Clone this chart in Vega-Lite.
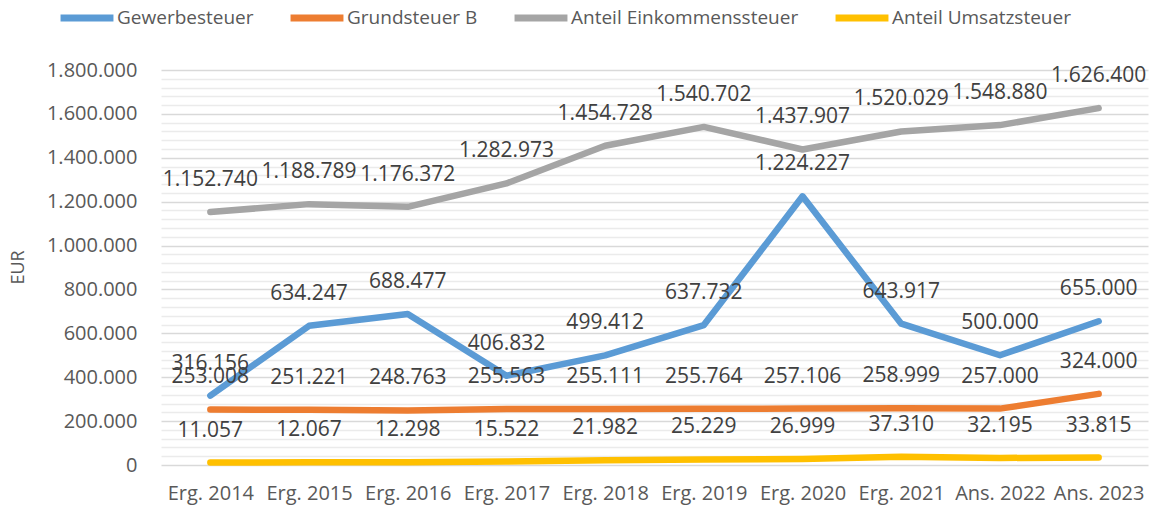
{
  "$schema": "https://vega.github.io/schema/vega-lite/v6.json",
  "width": 987,
  "height": 395,
  "autosize": {"type": "none"},
  "padding": {"left": 161, "top": 70, "right": 7, "bottom": 49},
  "background": "white",
  "config": {
    "locale": {"number": {"decimal": ",", "thousands": ".", "grouping": [3], "currency": ["", " €"]}},
    "view": {"stroke": null},
    "font": "Open Sans"
  },
  "data": {
    "values": [
      {"jahr": "Erg. 2014", "serie": "Gewerbesteuer", "wert": 316156},
      {"jahr": "Erg. 2015", "serie": "Gewerbesteuer", "wert": 634247},
      {"jahr": "Erg. 2016", "serie": "Gewerbesteuer", "wert": 688477},
      {"jahr": "Erg. 2017", "serie": "Gewerbesteuer", "wert": 406832},
      {"jahr": "Erg. 2018", "serie": "Gewerbesteuer", "wert": 499412},
      {"jahr": "Erg. 2019", "serie": "Gewerbesteuer", "wert": 637732},
      {"jahr": "Erg. 2020", "serie": "Gewerbesteuer", "wert": 1224227},
      {"jahr": "Erg. 2021", "serie": "Gewerbesteuer", "wert": 643917},
      {"jahr": "Ans. 2022", "serie": "Gewerbesteuer", "wert": 500000},
      {"jahr": "Ans. 2023", "serie": "Gewerbesteuer", "wert": 655000},
      {"jahr": "Erg. 2014", "serie": "Grundsteuer B", "wert": 253008},
      {"jahr": "Erg. 2015", "serie": "Grundsteuer B", "wert": 251221},
      {"jahr": "Erg. 2016", "serie": "Grundsteuer B", "wert": 248763},
      {"jahr": "Erg. 2017", "serie": "Grundsteuer B", "wert": 255563},
      {"jahr": "Erg. 2018", "serie": "Grundsteuer B", "wert": 255111},
      {"jahr": "Erg. 2019", "serie": "Grundsteuer B", "wert": 255764},
      {"jahr": "Erg. 2020", "serie": "Grundsteuer B", "wert": 257106},
      {"jahr": "Erg. 2021", "serie": "Grundsteuer B", "wert": 258999},
      {"jahr": "Ans. 2022", "serie": "Grundsteuer B", "wert": 257000},
      {"jahr": "Ans. 2023", "serie": "Grundsteuer B", "wert": 324000},
      {"jahr": "Erg. 2014", "serie": "Anteil Einkommenssteuer", "wert": 1152740},
      {"jahr": "Erg. 2015", "serie": "Anteil Einkommenssteuer", "wert": 1188789},
      {"jahr": "Erg. 2016", "serie": "Anteil Einkommenssteuer", "wert": 1176372},
      {"jahr": "Erg. 2017", "serie": "Anteil Einkommenssteuer", "wert": 1282973},
      {"jahr": "Erg. 2018", "serie": "Anteil Einkommenssteuer", "wert": 1454728},
      {"jahr": "Erg. 2019", "serie": "Anteil Einkommenssteuer", "wert": 1540702},
      {"jahr": "Erg. 2020", "serie": "Anteil Einkommenssteuer", "wert": 1437907},
      {"jahr": "Erg. 2021", "serie": "Anteil Einkommenssteuer", "wert": 1520029},
      {"jahr": "Ans. 2022", "serie": "Anteil Einkommenssteuer", "wert": 1548880},
      {"jahr": "Ans. 2023", "serie": "Anteil Einkommenssteuer", "wert": 1626400},
      {"jahr": "Erg. 2014", "serie": "Anteil Umsatzsteuer", "wert": 11057},
      {"jahr": "Erg. 2015", "serie": "Anteil Umsatzsteuer", "wert": 12067},
      {"jahr": "Erg. 2016", "serie": "Anteil Umsatzsteuer", "wert": 12298},
      {"jahr": "Erg. 2017", "serie": "Anteil Umsatzsteuer", "wert": 15522},
      {"jahr": "Erg. 2018", "serie": "Anteil Umsatzsteuer", "wert": 21982},
      {"jahr": "Erg. 2019", "serie": "Anteil Umsatzsteuer", "wert": 25229},
      {"jahr": "Erg. 2020", "serie": "Anteil Umsatzsteuer", "wert": 26999},
      {"jahr": "Erg. 2021", "serie": "Anteil Umsatzsteuer", "wert": 37310},
      {"jahr": "Ans. 2022", "serie": "Anteil Umsatzsteuer", "wert": 32195},
      {"jahr": "Ans. 2023", "serie": "Anteil Umsatzsteuer", "wert": 33815}
    ]
  },
  "encoding": {
    "x": {
      "field": "jahr",
      "type": "nominal",
      "sort": null,
      "title": null,
      "scale": {"type": "point", "padding": 0.5},
      "axis": {
        "domain": false,
        "ticks": false,
        "grid": false,
        "labelAngle": 0,
        "labelFontSize": 20,
        "labelColor": "#595959",
        "labelPadding": 18
      }
    },
    "y": {
      "field": "wert",
      "type": "quantitative",
      "scale": {"domain": [0, 1800000], "nice": false, "zero": true},
      "axis": {
        "title": "EUR",
        "titleFontSize": 18,
        "titleFontWeight": "normal",
        "titleColor": "#595959",
        "titleX": -143,
        "titleY": 197,
        "titleAngle": -90,
        "titleAlign": "center",
        "titleBaseline": "middle",
        "domain": false,
        "ticks": false,
        "labelFontSize": 20,
        "labelColor": "#595959",
        "labelPadding": 24,
        "labelOverlap": false,
        "labelBound": false,
        "format": ",d",
        "labelExpr": "datum.value % 200000 === 0 ? datum.label : ''",
        "values": [0, 40000, 80000, 120000, 160000, 200000, 240000, 280000, 320000, 360000, 400000, 440000, 480000, 520000, 560000, 600000, 640000, 680000, 720000, 760000, 800000, 840000, 880000, 920000, 960000, 1000000, 1040000, 1080000, 1120000, 1160000, 1200000, 1240000, 1280000, 1320000, 1360000, 1400000, 1440000, 1480000, 1520000, 1560000, 1600000, 1640000, 1680000, 1720000, 1760000, 1800000],
        "gridColor": {"condition": {"test": "datum.value % 200000 === 0", "value": "#D9D9D9"}, "value": "#EBEBEB"},
        "gridWidth": 1.5
      }
    },
    "color": {
      "field": "serie",
      "type": "nominal",
      "sort": ["Gewerbesteuer", "Grundsteuer B", "Anteil Einkommenssteuer", "Anteil Umsatzsteuer"],
      "scale": {
        "domain": ["Gewerbesteuer", "Grundsteuer B", "Anteil Einkommenssteuer", "Anteil Umsatzsteuer"],
        "range": ["#5B9BD5", "#ED7D31", "#A5A5A5", "#FFC000"]
      },
      "legend": {
        "title": null,
        "orient": "none",
        "direction": "horizontal",
        "columns": 4,
        "legendX": -104,
        "legendY": -82,
        "symbolType": "stroke",
        "symbolSize": 2800,
        "symbolStrokeWidth": 7,
        "labelFontSize": 19,
        "labelColor": "#595959",
        "labelOffset": 0,
        "columnPadding": 22,
        "labelLimit": 400
      }
    }
  },
  "layer": [
    {"mark": {"type": "line", "strokeWidth": 6.5, "strokeCap": "round", "strokeJoin": "round"}},
    {
      "mark": {"type": "text", "dy": -32, "fontSize": 21, "baseline": "middle"},
      "encoding": {
        "text": {"field": "wert", "type": "quantitative", "format": ",d"},
        "color": {"value": "#404040"}
      }
    }
  ]
}
